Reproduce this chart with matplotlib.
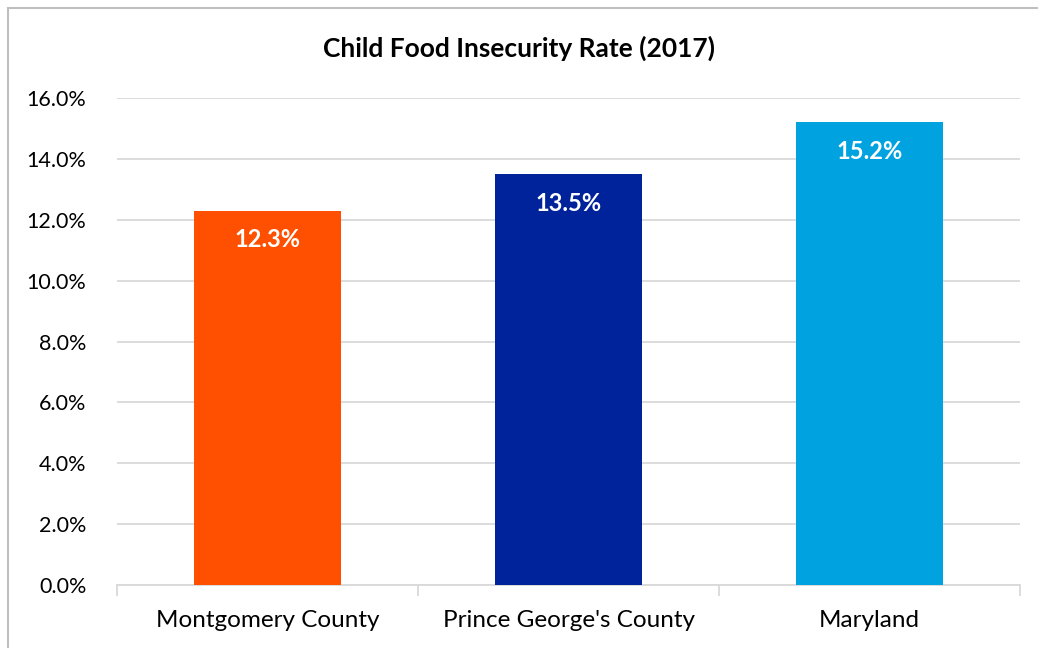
import matplotlib.pyplot as plt
from matplotlib.patches import Rectangle

# Child food insecurity rate, 2017
categories = ["Montgomery County", "Prince George's County", "Maryland"]
rates = [12.3, 13.5, 15.2]
colors = ["#ff4f00", "#00239c", "#00a3e0"]

plt.rcParams['font.family'] = ['Lato', 'DejaVu Sans']

fig = plt.figure(figsize=(10.38, 6.48), dpi=100)
ax = fig.add_axes([0.1127, 0.0972, 0.870, 0.7515])

x = range(len(categories))
bars = ax.bar(x, rates, width=0.49, color=colors, zorder=3)

# value labels inside the bars
for b, v in zip(bars, rates):
    ax.annotate(f"{v:.1f}%", (b.get_x() + b.get_width() / 2, v),
                xytext=(0, -29), textcoords="offset pixels",
                ha="center", va="center", color="white",
                fontsize=17, fontweight="bold", zorder=4)

ax.set_xlim(-0.5, len(categories) - 0.5)
ax.set_ylim(0, 16)
ax.set_yticks([i * 2 for i in range(9)])
ax.set_yticklabels([f"{i * 2:.1f}%" for i in range(9)])
ax.yaxis.grid(True, color="#d9d9d9", linewidth=1.3, zorder=0)
ax.tick_params(axis="y", length=0, labelsize=15.5, pad=22)

ax.set_xticks(x)
ax.set_xticklabels(categories)
ax.tick_params(axis="x", length=0, labelsize=17.5, pad=18)
# tick marks between categories
ax.set_xticks([-0.5, 0.5, 1.5, 2.5], minor=True)
ax.tick_params(axis="x", which="minor", length=8, color="#d9d9d9", width=1.3)

for s in ["top", "right", "left"]:
    ax.spines[s].set_visible(False)
ax.spines["bottom"].set_color("#d9d9d9")
ax.spines["bottom"].set_linewidth(1.3)

fig.text(0.5, 0.926, "Child Food Insecurity Rate (2017)", ha="center", va="center",
         fontsize=19, fontweight="bold")

# chart area border
fig.patches.append(Rectangle((8 / 1038, -0.01), 1.01, 1 - 8 / 648 + 0.01,
                             transform=fig.transFigure, fill=False,
                             edgecolor="#bfbfbf", linewidth=1.5))

fig.savefig("out.png", dpi=100)
